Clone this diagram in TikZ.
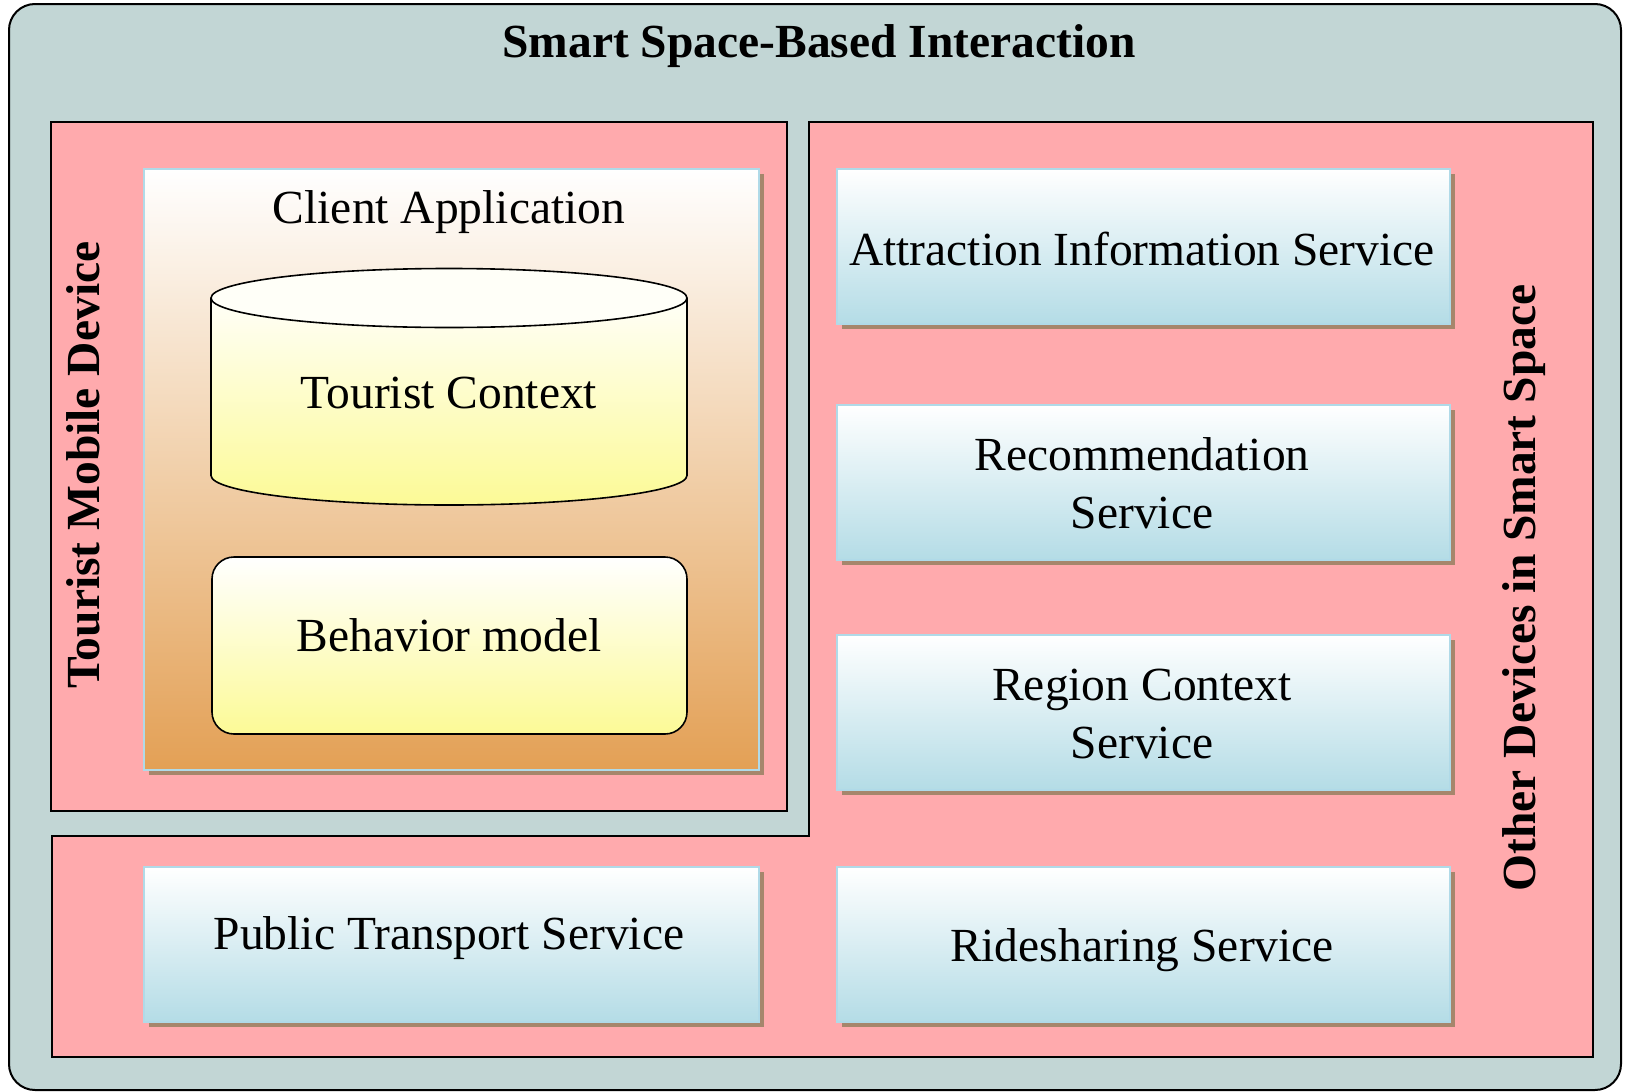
\documentclass[tikz,border=0pt]{standalone}
\usepackage{fontspec}
\setmainfont{Liberation Serif}
\usetikzlibrary{shadows}
\definecolor{bgc}{RGB}{194,214,213}
\definecolor{pinkc}{RGB}{255,170,173}
\definecolor{shadowc}{RGB}{166,134,108}
\definecolor{svcborder}{RGB}{176,218,232}
\definecolor{svcbot}{RGB}{180,220,230}
\definecolor{appbot}{RGB}{227,160,85}
\definecolor{yelbot}{RGB}{252,250,150}
\definecolor{yeltop}{RGB}{255,255,248}
\begin{document}
\begin{tikzpicture}[x=1pt,y=-1pt,
  region/.style={draw=black, line width=2pt, fill=pinkc},
  boxshadow/.style={drop shadow={shadow xshift=5pt, shadow yshift=-5pt, fill=shadowc, opacity=1}},
  svc/.style={draw=svcborder, line width=2pt, top color=white, bottom color=svcbot, boxshadow,
    minimum width=613pt, minimum height=155pt, inner sep=0pt, anchor=north west},
  lbl/.style={font=\fontsize{47.5}{58}\selectfont, anchor=base, inner sep=0pt, align=center},
  blbl/.style={lbl, font=\fontsize{47.5}{58}\selectfont\bfseries},
  outl/.style={draw=black, line width=1.6pt}
]
\useasboundingbox (0,0) rectangle (1625,1092);
% outer frame
\draw[draw=black, line width=2pt, fill=bgc, rounded corners=26pt] (9,4) rectangle (1621,1090);
\node[blbl] (title) at (819,57) {Smart Space-Based Interaction};
% regions
\draw[region] (51,122) rectangle (787,811);
\draw[region] (809,122) -- (1593,122) -- (1593,1057) -- (52,1057) -- (52,836) -- (809,836) -- cycle;
\node[blbl, rotate=90] (tmd) at (99,465) {Tourist Mobile Device};
\node[blbl, rotate=90] (ods) at (1535,588) {Other Devices in Smart Space};
% client application
\node[draw=svcborder, line width=2pt, top color=white, bottom color=appbot, boxshadow,
  minimum width=615pt, minimum height=601pt, inner sep=0pt, anchor=north west] (app) at (143,168) {};
\node[lbl] (appT) at (449,223) {Client Application};
% cylinder
\fill[top color=yeltop, bottom color=yelbot] (211,298) -- (211,475.5)
  arc[start angle=180, end angle=360, x radius=238pt, y radius=29.5pt] -- (687,298) -- cycle;
\draw[outl] (211,298) -- (211,475.5)
  arc[start angle=180, end angle=360, x radius=238pt, y radius=29.5pt] -- (687,298);
\draw[outl, fill=yeltop] (449,298) ellipse [x radius=238pt, y radius=29.5pt];
\node[lbl] (ctx) at (449,408) {Tourist Context};
% behavior model
\draw[outl, rounded corners=22pt, top color=white, bottom color=yelbot] (212,557) rectangle (687,734);
\node[lbl] (beh) at (449,651) {Behavior model};
% services
\node[svc] (att) at (836,168) {};
\node[lbl] (attT) at (1142,265) {Attraction Information Service};
\node[svc] (rec) at (836,404) {};
\node[lbl] (recT) at (1142,528) {Recommendation\\Service};
\node[svc] (reg) at (836,634) {};
\node[lbl] (regT) at (1142,758) {Region Context\\Service};
\node[svc] (ride) at (836,866) {};
\node[lbl] (rideT) at (1142,961) {Ridesharing Service};
\node[svc, minimum width=615pt] (pub) at (143,866) {};
\node[lbl] (pubT) at (449,949) {Public Transport Service};
\end{tikzpicture}
\end{document}
